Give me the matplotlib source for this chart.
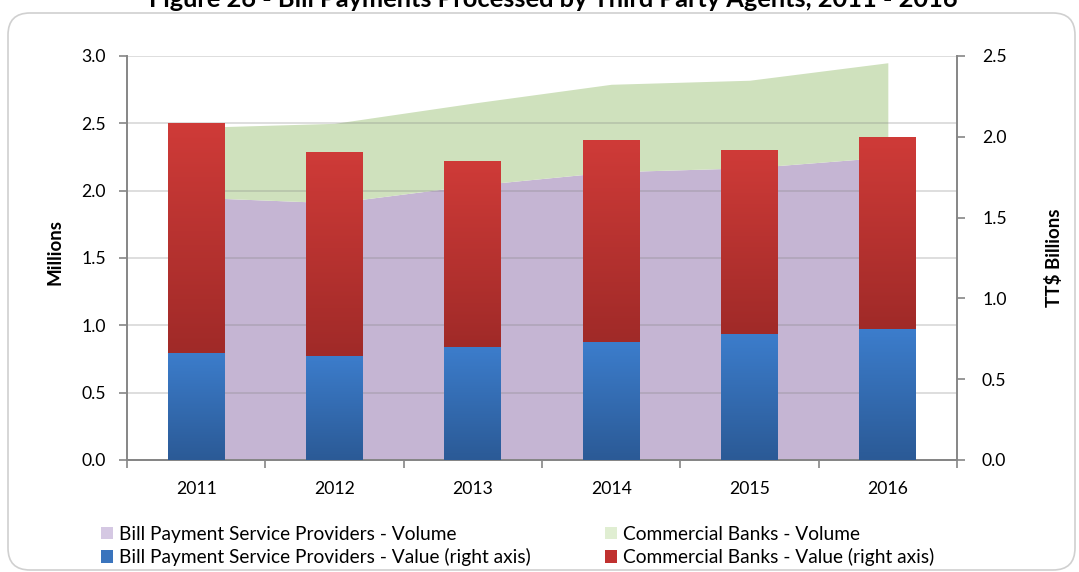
import numpy as np
import matplotlib
matplotlib.use('Agg')
import matplotlib.pyplot as plt
from matplotlib.patches import FancyBboxPatch, Patch
from matplotlib.colors import LinearSegmentedColormap

plt.rcParams['font.family'] = ['Lato', 'DejaVu Sans']

# Data
years = ['2011', '2012', '2013', '2014', '2015', '2016']
bpsp_volume = [1.95, 1.91, 2.04, 2.14, 2.17, 2.25]      # millions (left axis)
banks_volume = [0.52, 0.59, 0.61, 0.65, 0.65, 0.70]     # millions (left axis)
bpsp_value = [0.665, 0.645, 0.70, 0.73, 0.78, 0.81]     # TT$ billions (right axis)
banks_value = [1.42, 1.26, 1.15, 1.25, 1.14, 1.19]      # TT$ billions (right axis)

left_ticks = [0.0, 0.5, 1.0, 1.5, 2.0, 2.5, 3.0]
right_ticks = [0.0, 0.5, 1.0, 1.5, 2.0, 2.5]

title = 'Figure 26 - Bill Payments Processed by Third Party Agents, 2011 - 2016'
labels = ['Bill Payment Service Providers - Volume',
          'Bill Payment Service Providers - Value (right axis)',
          'Commercial Banks - Volume',
          'Commercial Banks - Value (right axis)']

purple = '#C5B5D3'
green = '#CFE1BD'
blue_top, blue_bot = '#3C7DCC', '#2B5A96'
red_top, red_bot = '#CF3B38', '#A02A28'
axis_gray = '#868686'


def gradient_fill(ax, bars, c_top, c_bot):
    # paint each bar with a vertical gradient, clipped to the bar
    cmap = LinearSegmentedColormap.from_list('g', [c_bot, c_top])
    grad = np.linspace(0, 1, 256).reshape(-1, 1)
    for b in bars:
        x0, y0 = b.get_x(), b.get_y()
        w, h = b.get_width(), b.get_height()
        im = ax.imshow(grad, cmap=cmap, origin='lower', aspect='auto',
                       extent=(x0, x0 + w, y0, y0 + h), zorder=3)
        im.set_clip_path(b)
        b.set_facecolor('none')


fig = plt.figure(figsize=(10.79, 5.72), dpi=100)
ax = fig.add_axes([127 / 1079, 112 / 572, 830 / 1079, 404 / 572])
ax2 = ax.twinx()

x = np.arange(len(years))
vol_total = np.array(bpsp_volume) + np.array(banks_volume)

ax.fill_between(x, 0, bpsp_volume, color=purple, lw=0, zorder=1)
ax.fill_between(x, bpsp_volume, vol_total, color=green, lw=0, zorder=1)

ax.set_xlim(-0.5, len(years) - 0.5)
ax.set_ylim(0, 3.0)
ax.set_yticks(left_ticks)
ax.set_yticklabels([f'{t:.1f}' for t in left_ticks])
for t in left_ticks[1:]:
    ax.axhline(t, color='#7F7F7F', alpha=0.3, lw=1.2, zorder=2)

bw = 0.41
b1 = ax2.bar(x, bpsp_value, bw, zorder=3, lw=0)
b2 = ax2.bar(x, banks_value, bw, bottom=bpsp_value, zorder=3, lw=0)
ax2.set_ylim(0, 2.5)
ax2.set_yticks(right_ticks)
ax2.set_yticklabels([f'{t:.1f}' for t in right_ticks])
gradient_fill(ax2, b1, blue_top, blue_bot)
gradient_fill(ax2, b2, red_top, red_bot)
ax2.set_xlim(-0.5, len(years) - 0.5)

ax.set_xticks(x)
ax.set_xticklabels(years)
ax.set_xticks(np.arange(len(years) + 1) - 0.5, minor=True)
ax.tick_params(axis='x', which='major', length=0, pad=15, labelsize=12.7)
ax.tick_params(axis='x', which='minor', length=6, color=axis_gray, width=1.2)
ax.tick_params(axis='y', length=6, color=axis_gray, width=1.2, labelsize=12.7, pad=9)
ax2.tick_params(axis='y', length=6, color=axis_gray, width=1.2, labelsize=12.7, pad=12)

for a in (ax, ax2):
    a.spines['top'].set_visible(False)
    for s in ('left', 'right', 'bottom'):
        a.spines[s].set_color(axis_gray)
        a.spines[s].set_linewidth(1.4)
ax.spines['right'].set_visible(False)
ax2.spines['left'].set_visible(False)
ax.set_facecolor('white')

fig.text(55 / 1079, 1 - 252 / 572, 'Millions', rotation=90, ha='center', va='center',
         fontsize=13.5, fontweight='bold')
fig.text(1054 / 1079, 1 - 258 / 572, 'TT$ Billions', rotation=90, ha='center', va='center',
         fontsize=13.5, fontweight='bold')

fig.text(553 / 1079, 1 - 7 / 572, title, ha='center', va='baseline',
         fontsize=18.3, fontweight='bold')

handles = [Patch(facecolor='#D5C8E3'), Patch(facecolor='#3A74BD'),
           Patch(facecolor='#E0EED2'), Patch(facecolor='#C0312F')]
fig.legend(handles, labels, ncol=2, loc='upper left', frameon=False,
           bbox_to_anchor=(101 / 1079, 1 - 526 / 572), fontsize=13.8,
           handlelength=0.62, handleheight=0.62, handletextpad=0.3,
           columnspacing=3.9, labelspacing=0.28, borderpad=0, borderaxespad=0)

fig.patches.append(FancyBboxPatch((8, 2), 1067, 557, boxstyle='round,pad=0,rounding_size=22',
                                  transform=None, fill=False, edgecolor='#D0D0D0', lw=1.2))

fig.savefig('out.png', dpi=100)
